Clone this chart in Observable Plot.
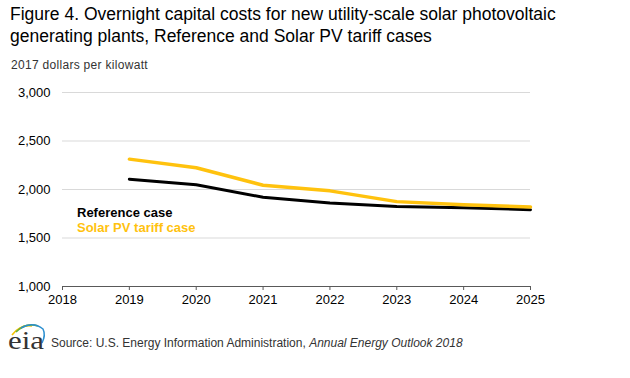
<!DOCTYPE html>
<html><head><meta charset="utf-8">
<script src="https://cdn.jsdelivr.net/npm/d3@7"></script>
<script src="https://cdn.jsdelivr.net/npm/@observablehq/plot@0.6"></script>
<style>
body{margin:0;background:#fff;font-family:"Liberation Sans",Arial,sans-serif;}
#wrap{position:relative;width:630px;height:378px;overflow:hidden;}
#chart{position:absolute;left:0;top:0;}
.t{position:absolute;white-space:nowrap;}
</style></head><body>
<div id="wrap">
<div id="chart"></div>
<div class="t" style="left:10px;top:3px;font-size:17.5px;line-height:22px;color:#000;">Figure 4. Overnight capital costs for new utility-scale solar photovoltaic<br>generating plants, Reference and Solar PV tariff cases</div>
<div class="t" style="left:11px;top:58px;font-size:12px;color:#333;letter-spacing:0.3px;">2017 dollars per kilowatt</div>
<div class="t" style="left:77px;top:205px;font-size:13px;font-weight:bold;color:#000;">Reference case</div>
<div class="t" style="left:77px;top:220px;font-size:13px;font-weight:bold;color:#ffc20e;">Solar PV tariff case</div>
<svg class="t" style="left:6px;top:319px;" width="42" height="34" viewBox="0 0 42 34">
<path d="M6 16 Q15 5 26 7" fill="none" stroke="#f5c400" stroke-width="1.7"/>
<path d="M10 13 Q20 3 32 7" fill="none" stroke="#6aae3a" stroke-width="1.7"/>
<path d="M15 9 Q27 2 37 10 Q40 16 36 24" fill="none" stroke="#2b8fd0" stroke-width="1.5"/>
<text x="2" y="30" font-family="Liberation Serif, DejaVu Serif, serif" font-size="25" fill="#333" textLength="36" lengthAdjust="spacingAndGlyphs">eia</text>
</svg>
<div class="t" style="left:51px;top:336px;font-size:12px;color:#333;">Source: U.S. Energy Information Administration, <i>Annual Energy Outlook 2018</i></div>
</div>
<script>
const years = [2019, 2020, 2021, 2022, 2023, 2024, 2025];
const referenceCase = [2106, 2048, 1920, 1862, 1824, 1812, 1792];
const tariffCase = [2313, 2224, 2044, 1986, 1875, 1842, 1820];
const xTicks = [2018, 2019, 2020, 2021, 2022, 2023, 2024, 2025];
const yTicks = [1000, 1500, 2000, 2500, 3000];

const ref = years.map((y, i) => ({year: y, value: referenceCase[i]}));
const tar = years.map((y, i) => ({year: y, value: tariffCase[i]}));

const plot = Plot.plot({
  width: 630, height: 378,
  marginLeft: 62, marginRight: 100, marginTop: 92, marginBottom: 92,
  style: {fontFamily: "Liberation Sans, Arial, sans-serif", fontSize: "13px", color: "#000", background: "transparent"},
  x: {type: "linear", domain: [2018, 2025]},
  y: {domain: [1000, 3000]},
  marks: [
    Plot.ruleY(yTicks.filter(d => d > 1000), {stroke: "#d9d9d9", strokeWidth: 1}),
    Plot.ruleY([1000], {stroke: "#595959", strokeWidth: 1}),
    Plot.axisY({ticks: yTicks, tickSize: 0, tickPadding: 12, tickFormat: d3.format(","), label: null, fontSize: 13}),
    Plot.axisX({ticks: xTicks, tickSize: 4, tickPadding: 4, tickFormat: d => String(d), label: null, stroke: "#595959", fontSize: 13}),
    Plot.line(ref, {x: "year", y: "value", stroke: "#000", strokeWidth: 3}),
    Plot.line(tar, {x: "year", y: "value", stroke: "#ffc20e", strokeWidth: 3.5})
  ]
});
document.getElementById("chart").appendChild(plot);
</script>
</body></html>
